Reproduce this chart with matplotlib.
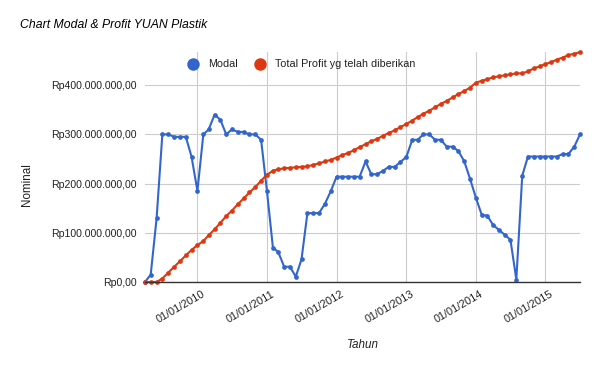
import matplotlib
matplotlib.use('Agg')
import matplotlib.pyplot as plt
import matplotlib.transforms as mtransforms
from matplotlib.ticker import FuncFormatter, FixedLocator
from matplotlib.lines import Line2D
import pandas as pd

plt.rcParams['font.family'] = ['Liberation Sans', 'DejaVu Sans']

# ---- data (millions of Rupiah), monthly from April 2009 ----
start_month = '2009-04-01'
modal = [
    0, 15, 130, 300, 300, 295, 295, 295, 255,
    185, 300, 310, 340, 330, 300, 310, 305, 305, 300, 300, 289,
    184, 70, 61, 31, 31, 11, 46, 140, 140, 140, 159, 184,
    214, 214, 214, 214, 214, 245, 219, 219, 226, 234, 234, 244,
    254, 289, 289, 300, 300, 289, 289, 275, 275, 266, 245, 210,
    171, 136, 135, 116, 106, 96, 86, 5, 216, 255, 255, 255,
    255, 255, 255, 260, 260, 275, 300,
]
profit = [
    0, 0, 0, 7, 19, 31, 42, 54, 65,
    75, 83, 95, 107, 120, 134, 145, 158, 170, 182, 193, 206,
    218, 226, 229, 231, 232, 233, 234, 235, 238, 241, 245, 248,
    253, 258, 262, 268, 274, 280, 286, 291, 297, 303, 308, 315,
    321, 328, 335, 342, 348, 355, 362, 368, 375, 382, 388, 395,
    405, 409, 412, 416, 418, 420, 422, 424, 424, 428, 434, 438,
    443, 447, 452, 456, 461, 464, 467,
]
series_names = ['Modal', 'Total Profit yg telah diberikan']
tick_dates = ['2010-01-01', '2011-01-01', '2012-01-01', '2013-01-01', '2014-01-01', '2015-01-01']
tick_labels = ['01/01/2010', '01/01/2011', '01/01/2012', '01/01/2013', '01/01/2014', '01/01/2015']
y_ticks = [0, 100, 200, 300, 400]

dates = pd.date_range(start_month, periods=len(modal), freq='MS')
blue = '#3366cc'
red = '#dc3912'

W, H = 600, 371
fig = plt.figure(figsize=(W / 100, H / 100), dpi=100)
ax = fig.add_axes([145 / W, 1 - 282 / H, 435 / W, (282 - 51.7) / H])

ax.plot(dates, [v * 1e6 for v in modal], color=blue, lw=1.5, marker='o', ms=3.4,
        markeredgewidth=0, zorder=3, clip_on=False)
ax.plot(dates, [v * 1e6 for v in profit], color=red, lw=1.5, marker='o', ms=3.4,
        markeredgewidth=0, zorder=4, clip_on=False)

ax.set_xlim(dates[0], dates[-1])
ax.set_ylim(0, 468e6)

ax.yaxis.set_major_locator(FixedLocator([v * 1e6 for v in y_ticks]))


def rp(v, pos):
    s = f"{v:,.2f}"
    s = s.replace(',', 'X').replace('.', ',').replace('X', '.')
    return 'Rp' + s


ax.yaxis.set_major_formatter(FuncFormatter(rp))
ax.set_xticks(pd.to_datetime(tick_dates))
ax.set_xticklabels(tick_labels)

ax.tick_params(axis='both', length=0, labelsize=7.6, labelcolor='#222222')
ax.tick_params(axis='y', pad=6)
ax.tick_params(axis='x', pad=2)
for lab in ax.get_xticklabels():
    lab.set_rotation(30)
    lab.set_ha('right')
    lab.set_va('top')
    lab.set_rotation_mode('anchor')
    lab.set_fontsize(7.8)
    lab.set_transform(lab.get_transform() +
                      mtransforms.ScaledTranslation(4 / 100, -4 / 100, fig.dpi_scale_trans))

ax.grid(True, color='#cccccc', lw=0.8)
ax.set_axisbelow(True)
for s in ['top', 'right', 'left']:
    ax.spines[s].set_visible(False)
ax.spines['bottom'].set_color('#333333')
ax.spines['bottom'].set_linewidth(1.0)
ax.spines['bottom'].set_zorder(5)

# titles / labels
fig.text(20 / W, 1 - 25 / H, 'Chart Modal & Profit YUAN Plastik', fontsize=8.8,
         style='italic', color='#000000', ha='left', va='center')
fig.text(27 / W, 1 - 185 / H, 'Nominal', fontsize=8.4, rotation=90,
         color='#222222', ha='center', va='center')
fig.text(363 / W, 1 - 345 / H, 'Tahun', fontsize=8.4, style='italic',
         color='#222222', ha='center', va='center')

# legend
for cx, col, tx, name in [(193, blue, 208, series_names[0]), (260, red, 275, series_names[1])]:
    fig.add_artist(Line2D([cx / W], [1 - 64 / H], marker='o', ms=9, color=col,
                          markeredgewidth=0, linestyle='none', transform=fig.transFigure))
    fig.text(tx / W, 1 - 64 / H, name, fontsize=7.75, color='#222222',
             ha='left', va='center')

fig.savefig('out.png', dpi=100)
